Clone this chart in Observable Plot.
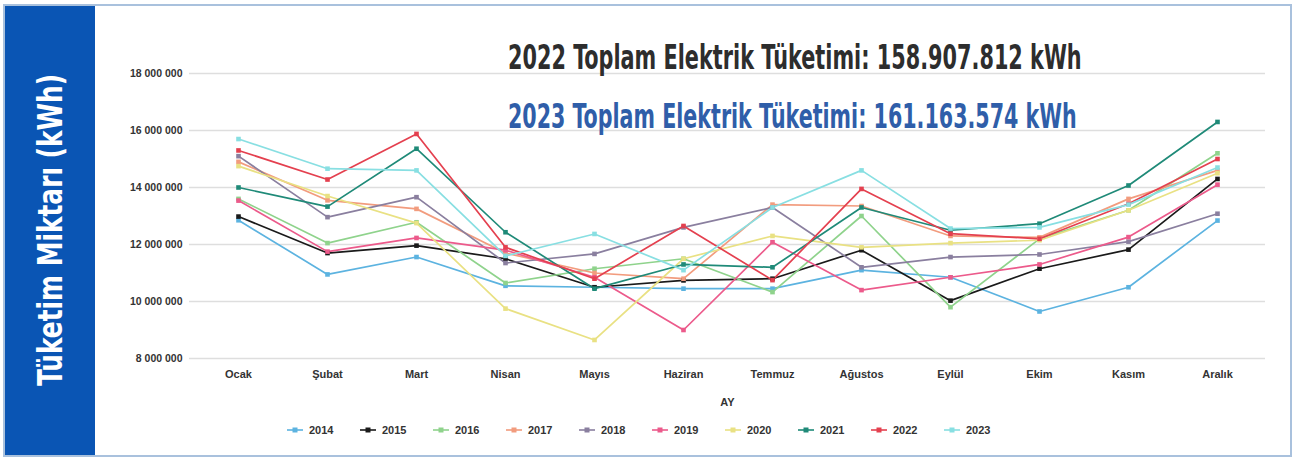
<!DOCTYPE html>
<html><head><meta charset="utf-8">
<script src="https://cdn.jsdelivr.net/npm/d3@7"></script>
<script src="https://cdn.jsdelivr.net/npm/@observablehq/plot@0.6"></script>
<style>
body{margin:0;background:#fff;width:1299px;height:459px;overflow:hidden;font-family:"Liberation Sans",Arial,sans-serif;position:relative;}
#frame{position:absolute;left:3px;top:4px;width:1289px;height:453px;border:2px solid #a9c1dd;box-sizing:border-box;}
#band{position:absolute;left:5px;top:6px;width:90px;height:449px;background:#0a55b4;}
#chart{position:absolute;left:95px;top:5px;}
#overlay{position:absolute;left:0;top:0;pointer-events:none;}
.ttl{position:absolute;left:508px;white-space:nowrap;font-family:"DejaVu Sans Condensed","Liberation Sans Narrow",sans-serif;font-size:34px;line-height:34px;transform-origin:0 0;}
#t1{top:40px;color:#2d2d2d;font-weight:600;}
#t2{top:99px;color:#2f5ea9;font-weight:bold;}
#legend{position:absolute;left:286px;top:424px;display:flex;font:bold 11px "Liberation Sans",Arial,sans-serif;color:#333;}
#legend .it{width:73px;display:flex;align-items:center;}
#legend svg{margin-right:5px;}
</style></head>
<body>
<div id="frame"></div>
<div id="band"></div>
<div id="chart"></div>
<div id="legend"></div>
<svg id="overlay" width="1299" height="459">
  <text id="ylab" transform="translate(62,230) rotate(-90)" text-anchor="middle" fill="#fff" font-family="Liberation Sans Narrow, DejaVu Sans Condensed, sans-serif" font-weight="bold" font-size="34" textLength="312" lengthAdjust="spacingAndGlyphs">Tüketim Miktarı (kWh)</text>
</svg>
<div class="ttl" id="t1">2022 Toplam Elektrik Tüketimi: 158.907.812 kWh</div>
<div class="ttl" id="t2">2023 Toplam Elektrik Tüketimi: 161.163.574 kWh</div>
<script>
const months = ["Ocak","Şubat","Mart","Nisan","Mayıs","Haziran","Temmuz","Ağustos","Eylül","Ekim","Kasım","Aralık"];
const years = ["2014","2015","2016","2017","2018","2019","2020","2021","2022","2023"];
const colors = ["#5cb3e0","#1a1a1a","#8fd38c","#f29c7e","#8a7f9f","#ec5a8b","#e9e183","#1f8a78","#e4404f","#88dfe2"];
const yTicks = [8000000,10000000,12000000,14000000,16000000,18000000];

const v2014 = [12850000,10950000,11560000,10550000,10500000,10450000,10450000,11100000,10850000,9650000,10500000,12840000];
const v2015 = [12980000,11700000,11960000,11500000,10500000,10740000,10800000,11800000,10030000,11150000,11820000,14300000];
const v2016 = [13600000,12050000,12780000,10650000,11150000,11500000,10330000,13000000,9800000,12200000,13200000,15200000];
const v2017 = [14900000,13550000,13250000,11700000,11000000,10800000,13400000,13350000,12300000,12250000,13600000,14600000];
const v2018 = [15100000,12960000,13660000,11350000,11670000,12600000,13300000,11200000,11560000,11650000,12100000,13080000];
const v2019 = [13540000,11750000,12230000,11800000,10850000,9000000,12080000,10400000,10850000,11300000,12260000,14100000];
const v2020 = [14750000,13700000,12750000,9750000,8650000,11500000,12300000,11900000,12050000,12150000,13200000,14500000];
const v2021 = [14000000,13330000,15360000,12430000,10450000,11300000,11200000,13300000,12500000,12730000,14070000,16300000];
const v2022 = [15300000,14280000,15880000,11900000,10800000,12650000,10750000,13950000,12380000,12200000,13430000,15000000];
const v2023 = [15700000,14660000,14600000,11600000,12370000,11100000,13300000,14600000,12560000,12600000,13400000,14700000];
const series = [v2014,v2015,v2016,v2017,v2018,v2019,v2020,v2021,v2022,v2023];

const data = [];
years.forEach((yr,i)=>series[i].forEach((v,j)=>data.push({year:yr, month:months[j], value:v})));

const fmt = d => d3.format(",")(d).replace(/,/g," ");

const chart = Plot.plot({
  width:1195, height:410,
  marginLeft:94, marginRight:25, marginTop:68, marginBottom:57,
  style:{fontFamily:"Liberation Sans, Arial, sans-serif", fontSize:"11px", fontWeight:"bold", color:"#333", background:"transparent"},
  x:{type:"point", domain:months, padding:0.5},
  y:{domain:[8000000,18000000]},
  color:{domain:years, range:colors},
  marks:[
    Plot.gridY(yTicks,{stroke:"#dedede", strokeOpacity:1, strokeWidth:1.6}),
    Plot.line(data,{x:"month", y:"value", z:"year", stroke:"year", strokeWidth:1.7}),
    Plot.dot(data,{x:"month", y:"value", fill:"year", symbol:"square", r:2.6}),
    Plot.axisX({tickSize:0, tickPadding:12, label:"AY", labelAnchor:"center", labelOffset:47, fontSize:11}),
    Plot.axisY(yTicks,{tickSize:0, tickPadding:7, tickFormat:fmt, label:null, fontSize:10.5})
  ]
});
document.getElementById("chart").appendChild(chart);

// fit titles to the reference widths
[["t1",574],["t2",569]].forEach(([id,w])=>{
  const el = document.getElementById(id);
  const k = w / el.scrollWidth;
  el.style.transform = `scaleX(${k})`;
});

const lg = document.getElementById("legend");
years.forEach((yr,i)=>{
  const it = document.createElement("div"); it.className="it";
  it.innerHTML = `<svg width="18" height="8"><line x1="1" y1="4" x2="17" y2="4" stroke="${colors[i]}" stroke-width="1.6"/><rect x="6.5" y="1.5" width="5" height="5" fill="${colors[i]}"/></svg><span>${yr}</span>`;
  lg.appendChild(it);
});
</script>
</body></html>
